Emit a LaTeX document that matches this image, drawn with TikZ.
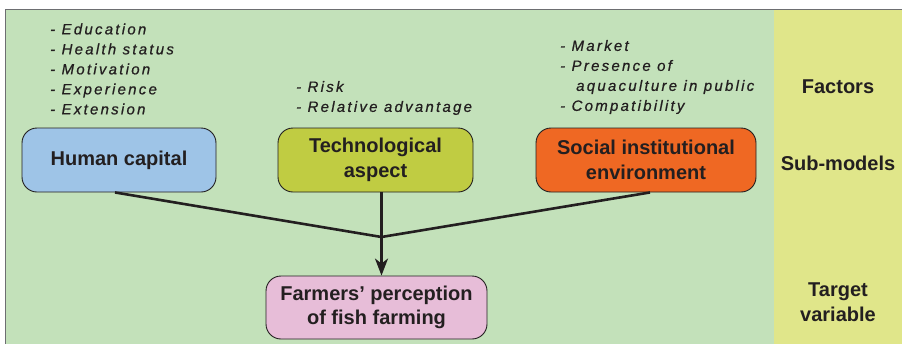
\documentclass[tikz,border=0pt]{standalone}
\usepackage{fontspec}
\setmainfont{Liberation Sans}
\newfontfamily\listfont[LetterSpace=15,FakeBold=0.6]{Liberation Sans}
\usetikzlibrary{arrows.meta}
\definecolor{bggreen}{HTML}{C3E1BA}
\definecolor{colyellow}{HTML}{E0E68A}
\definecolor{hcblue}{HTML}{9EC4E7}
\definecolor{tagreen}{HTML}{C0CC42}
\definecolor{sieorange}{HTML}{EF6823}
\definecolor{fppink}{HTML}{E7BDD8}
\definecolor{inkc}{HTML}{231F20}
\definecolor{framegrey}{HTML}{6D6E71}
\tikzset{
  subbox/.style={draw=inkc, line width=0.9pt, rounded corners=15pt, inner sep=0pt,
    align=center, text=inkc, font=\bfseries\fontsize{20}{24.5}\selectfont},
  listtxt/.style={anchor=west, align=left, inner sep=0pt, text=inkc,
    font=\listfont\itshape\fontsize{15}{20}\selectfont},
  collabel/.style={align=center, inner sep=0pt, text=inkc,
    font=\bfseries\fontsize{20}{24.5}\selectfont},
  conn/.style={draw=inkc, line width=2.6pt},
}
\begin{document}
\begin{tikzpicture}[x=1pt,y=-1pt]
\useasboundingbox (0,0) rectangle (902,343);
\clip (0,0) rectangle (902,343);
% backgrounds
\fill[bggreen] (5.5,9.5) rectangle (773.5,360);
\fill[colyellow] (773.5,9.5) rectangle (910,360);
\draw[framegrey, line width=1.4pt] (5.5,360) -- (5.5,9.5) -- (910,9.5);
% factor lists
\node[listtxt] (lhc) at (50,69) {- Education\\- Health status\\- Motivation\\- Experience\\- Extension};
\node[listtxt] (lta) at (296,98) {- Risk\\- Relative advantage};
\node[listtxt] (lsie) at (560,77) {- Market\\- Presence of\\\hspace*{16pt}aquaculture in public\\- Compatibility};
% sub-model boxes
\node[subbox, fill=hcblue, minimum width=194pt, minimum height=64pt] (hc) at (119,160) {Human capital};
\node[subbox, fill=tagreen, minimum width=195pt, minimum height=64pt] (ta) at (375.5,160) {Technological\\aspect};
\node[subbox, fill=sieorange, minimum width=220pt, minimum height=64pt] (sie) at (646,160) {Social institutional\\environment};
\node[subbox, fill=fppink, minimum width=221pt, minimum height=63pt] (fp) at (376.5,307.5) {Farmers’ perception\\of fish farming};
% column labels
\node[collabel] (lf) at (838,87) {Factors};
\node[collabel] (ls) at (838,163) {Sub-models};
\node[collabel] (lt) at (838,302) {Target\\variable};
% connectors
\coordinate (j) at (381.5,237);
\draw[conn] ([xshift=-4pt]hc.south) -- (j);
\draw[conn] ([xshift=4pt]sie.south) -- (j);
\draw[conn] (j |- ta.south) -- (j);
\draw[conn, -{Stealth[length=17pt,width=13pt,inset=5pt]}] (j) -- (j |- fp.north);
\end{tikzpicture}
\end{document}
